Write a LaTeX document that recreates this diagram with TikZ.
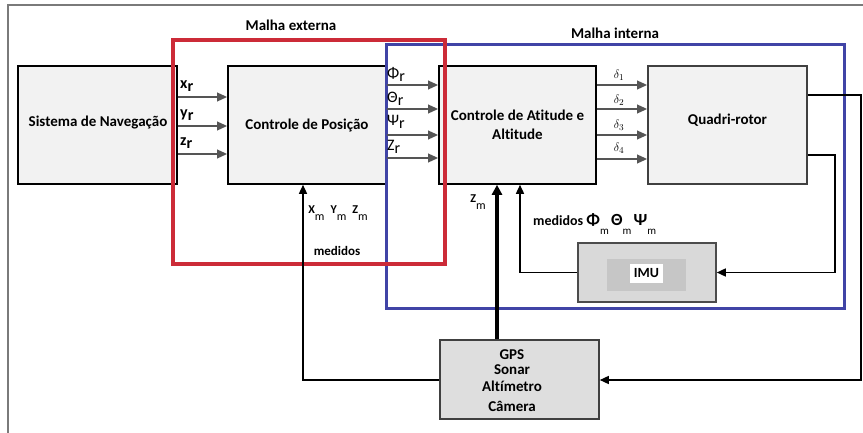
\documentclass[tikz,border=0pt]{standalone}
\usepackage{fontspec}
\setmainfont{Carlito}[Ligatures={NoCommon}]
\usetikzlibrary{arrows.meta,calc}
\definecolor{boxfill}{HTML}{F2F2F2}
\definecolor{imufill}{HTML}{D9D9D9}
\definecolor{imuin}{HTML}{C6C6C6}
\definecolor{gpsfill}{HTML}{DEDEDE}
\definecolor{redc}{HTML}{CC2B38}
\definecolor{bluec}{HTML}{4044A6}
\definecolor{arrgray}{HTML}{555555}
\definecolor{framegray}{HTML}{7A7A7A}
\begin{document}
\begin{tikzpicture}[x=1pt,y=-1pt,
  font=\bfseries\fontsize{15}{17}\selectfont,
  blk/.style={draw=black, line width=1.6pt, fill=boxfill, inner sep=0pt, align=center},
  inarrow/.style={draw=arrgray, line width=2pt, -{Triangle[length=10pt,width=8.5pt]}},
  fb/.style={draw=black, line width=1.5pt, -{Triangle[length=9pt,width=8pt]}},
  fbthick/.style={draw=black, line width=3.2pt, -{Triangle[length=10pt,width=10pt]}},
  loopred/.style={draw=redc, line width=3.2pt},
  loopblue/.style={draw=bluec, line width=3pt},
  lbl/.style={inner sep=0pt, anchor=west},
  dl/.style={inner sep=0pt, font=\fontsize{13}{14}\selectfont}
]
\useasboundingbox (0,0) rectangle (863,433);
\fill[white] (0,0) rectangle (863,433);
% frame
\draw[framegray, line width=1.2pt] (8,433) -- (8,5) -- (863,5);

% blocks
\node[blk, minimum width=159pt, minimum height=118pt, font=\bfseries\fontsize{15}{17}\selectfont] (nav) at (97.5,125) {};
\node[inner sep=0pt, font=\bfseries\fontsize{15}{17}\selectfont] (navtxt) at (98,123) {Sistema de Navegação};
\node[blk, minimum width=158pt, minimum height=118pt] (pos) at (307,125) {Controle de Posição};
\node[blk, minimum width=157pt, minimum height=118pt, font=\bfseries\fontsize{15}{19}\selectfont] (att) at (517.5,125) {Controle de Atitude e\\Altitude};
\node[blk, draw=black!75, minimum width=159pt, minimum height=118pt] (quad) at (727.5,125) {};
\node[inner sep=0pt] (quadtxt) at (727.5,120) {Quadri-rotor};
\node[blk, draw=black!70, fill=imufill, minimum width=138pt, minimum height=59pt] (imu) at (647,272.5) {};
\node[fill=imuin, minimum width=79pt, minimum height=32pt, inner sep=0pt] (imuin) at (646.5,275) {};
\node[fill=white, minimum width=33pt, minimum height=19pt, inner sep=0pt, font=\bfseries\fontsize{14}{16}\selectfont] (imutxt) at (646.5,273.5) {IMU};
\node[blk, draw=black!75, fill=gpsfill, minimum width=159pt, minimum height=79pt] (gps) at (519.5,379.5) {};
\node[inner sep=0pt, align=center, font=\bfseries\fontsize{15}{16}\selectfont] (gpstxt) at (512,381) {GPS\\[-1pt]Sonar\\[1pt]Altímetro\\[4pt]Câmera};

% loops
\draw[loopblue] (386,45) rectangle (844,308);
\draw[loopred] (173,40) rectangle (445,264);
\node[inner sep=0pt, font=\bfseries\fontsize{15}{17}\selectfont] (mext) at (291,25) {Malha externa};
\node[inner sep=0pt, font=\bfseries\fontsize{15}{17}\selectfont] (mint) at (615,33) {Malha interna};

% reference inputs
\foreach \yy in {97,126,154}{
  \draw[inarrow] (nav.east |- 0,\yy) -- (pos.west |- 0,\yy);
}
\node[lbl, font=\bfseries\fontsize{16}{17}\selectfont] (lxr) at (180,86) {x\raisebox{-0.4ex}{r}};
\node[lbl, font=\bfseries\fontsize{16}{17}\selectfont] (lyr) at (180,115) {y\raisebox{-0.4ex}{r}};
\node[lbl, font=\bfseries\fontsize{16}{17}\selectfont] (lzr) at (180,143) {z\raisebox{-0.4ex}{r}};

\foreach \yy in {85,109,135,158}{
  \draw[inarrow] (pos.east |- 0,\yy) -- (att.west |- 0,\yy);
}
\node[lbl, font=\fontsize{16}{17}\selectfont] (lphr) at (387,74) {Φ\raisebox{-0.4ex}{r}};
\node[lbl, font=\fontsize{16}{17}\selectfont] (lthr) at (387,99) {Θ\raisebox{-0.4ex}{r}};
\node[lbl, font=\fontsize{16}{17}\selectfont] (lpsr) at (387,122) {Ψ\raisebox{-0.4ex}{r}};
\node[lbl, font=\fontsize{16}{17}\selectfont] (lzzr) at (387,147) {Z\raisebox{-0.4ex}{r}};

\foreach \yy in {85,109,135,159}{
  \draw[inarrow] (att.east |- 0,\yy) -- (quad.west |- 0,\yy);
}
\node[dl] (d1) at (619,75) {$\delta_1$};
\node[dl] (d2) at (619,100) {$\delta_2$};
\node[dl] (d3) at (619,125) {$\delta_3$};
\node[dl] (d4) at (619,148) {$\delta_4$};

% feedback
\coordinate (c1) at (861,95);
\coordinate (c2) at (835,155);
\draw[fb] (quad.east |- c1) -- (c1) |- (gps.east |- 0,380);
\draw[fb] (quad.east |- c2) -- (c2) |- (imu.east);
\draw[fb] (imu.west) -| (att.south -| 520,0);
\draw[fbthick] (gps.north -| 497,0) -- (att.south -| 497,0);
\draw[fb] (gps.west |- 0,380) -| (pos.south -| 303,0);

% measurement labels
\node[inner sep=0pt, font=\bfseries\fontsize{12}{14}\selectfont] (xyzm) at (338,213) {X\raisebox{-1.1ex}{\fontseries{m}\selectfont m}\,\,\,Y\raisebox{-1.1ex}{\fontseries{m}\selectfont m}\,\,\,Z\raisebox{-1.1ex}{\fontseries{m}\selectfont m}};
\node[inner sep=0pt, font=\bfseries\fontsize{13}{15}\selectfont] (med1) at (337,251) {medidos};
\node[inner sep=0pt, font=\bfseries\fontsize{12}{14}\selectfont] (zm) at (478,202) {Z\raisebox{-1.1ex}{\fontseries{m}\selectfont m}};
\node[inner sep=0pt, anchor=west, font=\bfseries\fontsize{14}{16}\selectfont] (med2) at (533,224) {medidos {\fontsize{17}{18}\selectfont Φ}\raisebox{-1.4ex}{\fontseries{m}\fontsize{11}{12}\selectfont m}\,{\fontsize{17}{18}\selectfont Θ}\raisebox{-1.4ex}{\fontseries{m}\fontsize{11}{12}\selectfont m}\,{\fontsize{17}{18}\selectfont Ψ}\raisebox{-1.4ex}{\fontseries{m}\fontsize{11}{12}\selectfont m}};
\end{tikzpicture}
\end{document}
